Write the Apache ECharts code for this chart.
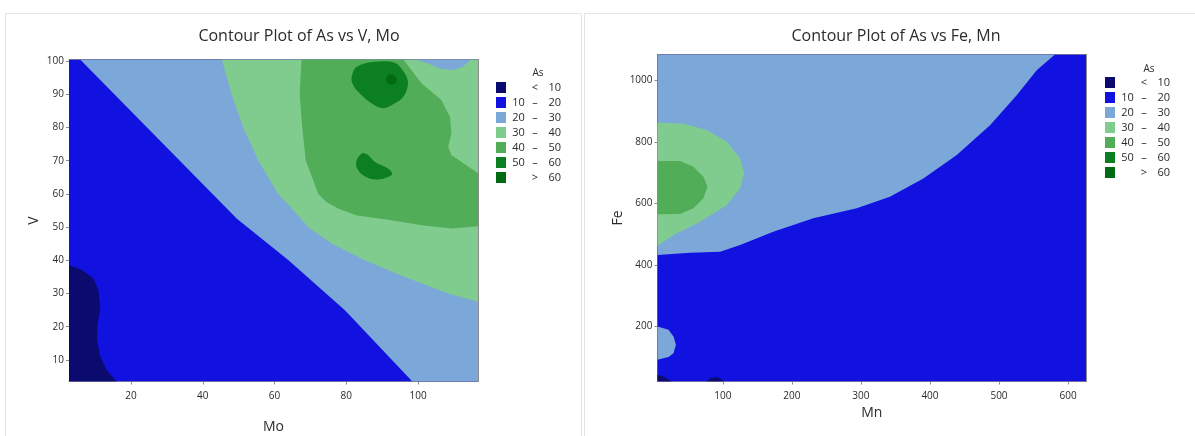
<!DOCTYPE html>
<html>
<head>
<meta charset="utf-8">
<script src="https://cdn.jsdelivr.net/npm/echarts@6/dist/echarts.min.js"></script>
<style>
  html, body { margin: 0; padding: 0; background: #fff; }
  #chart { width: 1195px; height: 436px; }
</style>
</head>
<body>
<div id="chart"></div>
<script>
// ---------- Levels ----------
const levelNames = ['< 10', '10 – 20', '20 – 30', '30 – 40', '40 – 50', '50 – 60', '> 60'];
const levelLow = ['', '10', '20', '30', '40', '50', ''];
const levelMid = ['<', '–', '–', '–', '–', '–', '>'];
const levelHigh = ['10', '20', '30', '40', '50', '60', '60'];
const levelColors = ['#0b0b6f', '#1111e0', '#7ba7d9', '#80cc8e', '#52ad58', '#0b7f22', '#006b12'];

// ---------- Left chart: As vs V (y), Mo (x) ----------
const moRange = [2.7, 116.7];
const vRange = [3.5, 100.5];
const moTicks = [20, 40, 60, 80, 100];
const vTicks = [10, 20, 30, 40, 50, 60, 70, 80, 90, 100];

const mvBase = [[2.7, 3.5], [116.7, 3.5], [116.7, 100.5], [2.7, 100.5]];
const mvNavy = [[2.7, 3.5], [2.7, 38.6], [6.3, 37.1], [9.5, 34.6], [10.9, 31.1], [11.4, 26], [10.6, 20], [10.5, 16], [11.4, 11], [13.2, 7], [16, 3.5]];
const mvBand = [[5.8, 100.5], [116.7, 100.5], [116.7, 3.5], [98.4, 3.5], [79.6, 25], [63.8, 40.1], [49.5, 52.5]];
const mvLightGreen = [[45.3, 100.5], [116.7, 100.5], [116.7, 27.5], [108.4, 30], [96.3, 35], [85.2, 40], [75.9, 45.1], [69.4, 50], [65.2, 55.2], [61, 60], [55.5, 70], [51.3, 80], [48, 90]];
const mvPatch = [[99.1, 100.5], [102.8, 99.3], [106, 97.8], [109.3, 97.3], [112, 98], [113.8, 99.5], [114.6, 100.5]];
const mvMedGreen = [[67.5, 100.5], [95.9, 100.5], [101, 93.3], [106.5, 88.3], [108.9, 83.2], [109.3, 78.2], [108.4, 74.2], [109.3, 71.7], [116.7, 66.2], [116.7, 50.3], [109.3, 49.6], [101, 50.6], [91.7, 52.2], [83, 53.5], [78, 55.5], [74.5, 57.5], [72.2, 60], [68.7, 70], [67.7, 80], [67, 90]];
const mvDarkUpper = [[81.5, 95.3], [82.9, 98.3], [88, 99.8], [93.5, 99.5], [96.3, 96.3], [97.2, 93.3], [95.9, 89.3], [93.5, 87.3], [90.3, 85.8], [87, 87.3], [83.3, 90.8], [81.7, 93.3]];
const mvDarkLower = [[82.9, 70.2], [84.3, 72.2], [85.9, 71.9], [88, 69.6], [91.7, 67.6], [92.8, 65.9], [90.3, 64.6], [87, 64.5], [84.3, 65.9], [82.8, 68.2]];
const mvDarkest = [[91.4, 95.6], [92.8, 96], [94, 95], [93.8, 93.6], [92.4, 93], [91.2, 93.8]];

// ---------- Right chart: As vs Fe (y), Mn (x) ----------
const mnRange = [5.3, 626];
const feRange = [21.6, 1083.4];
const mnTicks = [100, 200, 300, 400, 500, 600];
const feTicks = [200, 400, 600, 800, 1000];

const fmBase = [[5.3, 21.6], [626, 21.6], [626, 1083.4], [5.3, 1083.4]];
const fmLightBlue = [[5.3, 432.5], [52.7, 440], [96.1, 443.2], [125, 465], [173, 508], [231, 551.5], [294, 584], [342, 621.6], [390.4, 681], [438.8, 756.8], [487, 854], [525.6, 951.4], [554.6, 1032.5], [581, 1083.4], [5.3, 1083.4]];
const fmPatch = [[5.3, 200], [21.2, 189.3], [28.5, 167.6], [32, 140.7], [28.5, 113.7], [21.2, 100.8], [5.3, 92]];
const fmNavyA = [[5.3, 21.6], [5.3, 43.4], [14, 37.8], [26.2, 21.6]];
const fmNavyB = [[76.8, 21.6], [81.6, 32.7], [91.3, 35.9], [98.6, 27.1], [101, 21.6]];
const fmLightGreen = [[5.3, 862.9], [43, 858.4], [76.8, 837.9], [105.8, 800], [125, 746], [130.8, 697.5], [125, 648.8], [105.8, 594.7], [67.1, 540.5], [28.5, 497.4], [5.3, 461.7]];
const fmMedGreen = [[5.3, 737.4], [38.2, 737.4], [57.4, 718.9], [71.9, 686.5], [77.7, 654], [71.9, 616.4], [57.4, 584], [38.2, 565.5], [5.3, 564.5]];

// layers: [level, polygon, smooth]  (drawn in this order)
const leftLayers = [
  [1, mvBase, 0], [0, mvNavy, 0], [2, mvBand, 0], [3, mvLightGreen, 0], [2, mvPatch, 0],
  [4, mvMedGreen, 0], [5, mvDarkUpper, 0.35], [5, mvDarkLower, 0.3], [6, mvDarkest, 0.4]
];
const rightLayers = [
  [1, fmBase, 0], [2, fmLightBlue, 0], [2, fmPatch, 0], [0, fmNavyA, 0], [0, fmNavyB, 0],
  [3, fmLightGreen, 0], [4, fmMedGreen, 0]
];

const FONT = 'Open Sans';
const TXT = '#2b2b2b';
const AX = '#8c8c8c';

function buildSeries(layers, gridIdx) {
  const out = [];
  for (let lv = 0; lv < levelNames.length; lv++) {
    const items = [];
    layers.forEach((L, i) => { if (L[0] === lv) items.push([L[1][0][0], L[1][0][1], i]); });
    out.push({
      type: 'custom',
      name: levelNames[lv],
      xAxisIndex: gridIdx * 2,
      yAxisIndex: gridIdx * 2,
      coordinateSystem: 'cartesian2d',
      clip: true,
      silent: true,
      itemStyle: { color: levelColors[lv] },
      data: items,
      renderItem: function (params, api) {
        const L = layers[api.value(2)];
        const pts = L[1].map(p => api.coord(p));
        return {
          type: 'polygon',
          z2: api.value(2),
          shape: { points: pts, smooth: L[2] },
          style: { fill: levelColors[L[0]], stroke: null }
        };
      }
    });
  }
  return out;
}

function valueAxisX(range, ticks, gridIndex, name, nameGap) {
  return {
    type: 'value', gridIndex, min: range[0], max: range[1], position: 'bottom',
    name, nameLocation: 'middle', nameGap,
    nameTextStyle: { fontFamily: FONT, fontSize: 14, color: TXT },
    axisLine: { show: true, onZero: false, lineStyle: { color: AX, width: 1 } },
    axisTick: { show: true, length: 3, lineStyle: { color: AX }, customValues: ticks },
    axisLabel: { show: true, margin: 10, fontFamily: FONT, fontSize: 10, color: TXT, customValues: ticks,
      formatter: v => String(v) },
    splitLine: { show: false }
  };
}
function valueAxisY(range, ticks, gridIndex, name, nameGap) {
  return {
    type: 'value', gridIndex, min: range[0], max: range[1], position: 'left',
    name, nameLocation: 'middle', nameGap,
    nameTextStyle: { fontFamily: FONT, fontSize: 14, color: TXT },
    axisLine: { show: true, onZero: false, lineStyle: { color: AX, width: 1 } },
    axisTick: { show: true, length: 3, lineStyle: { color: AX }, customValues: ticks },
    axisLabel: { show: true, margin: 5, fontFamily: FONT, fontSize: 10, color: TXT, customValues: ticks,
      formatter: v => String(v) },
    splitLine: { show: false }
  };
}
function frameAxisX(range, gridIndex) {
  return { type: 'value', gridIndex, min: range[0], max: range[1], position: 'top',
    axisLine: { show: true, onZero: false, lineStyle: { color: AX } },
    axisTick: { show: false }, axisLabel: { show: false }, splitLine: { show: false } };
}
function frameAxisY(range, gridIndex) {
  return { type: 'value', gridIndex, min: range[0], max: range[1], position: 'right',
    axisLine: { show: true, onZero: false, lineStyle: { color: AX } },
    axisTick: { show: false }, axisLabel: { show: false }, splitLine: { show: false } };
}

function legendFor(left, top) {
  return {
    show: true, orient: 'vertical', left, top,
    data: levelNames, icon: 'rect', itemWidth: 10, itemHeight: 11, itemGap: 4,
    selectedMode: false,
    formatter: function (name) {
      const i = levelNames.indexOf(name);
      return '{a|' + (levelLow[i] || ' ') + '}{b|' + levelMid[i] + '}{c|' + levelHigh[i] + '}';
    },
    textStyle: {
      fontFamily: FONT, fontSize: 11, color: TXT, lineHeight: 11,
      rich: {
        a: { width: 15, align: 'right', fontFamily: FONT, fontSize: 11, color: TXT, lineHeight: 11 },
        b: { width: 18, align: 'center', fontFamily: FONT, fontSize: 11, color: TXT, lineHeight: 11 },
        c: { width: 17, align: 'right', fontFamily: FONT, fontSize: 11, color: TXT, lineHeight: 11 }
      }
    }
  };
}

const chart = echarts.init(document.getElementById('chart'), null, { renderer: 'canvas' });
chart.setOption({
  animation: false,
  backgroundColor: '#ffffff',
  title: [
    { text: 'Contour Plot of As vs V, Mo', left: 294, top: 23, textAlign: 'center',
      textStyle: { fontFamily: FONT, fontSize: 16, fontWeight: 'normal', color: '#2b2b2b' } },
    { text: 'Contour Plot of As vs Fe, Mn', left: 891, top: 23, textAlign: 'center',
      textStyle: { fontFamily: FONT, fontSize: 16, fontWeight: 'normal', color: '#2b2b2b' } }
  ],
  graphic: [
    { type: 'rect', shape: { x: 5.5, y: 13.5, width: 576, height: 430 }, style: { fill: null, stroke: '#e4e4e4', lineWidth: 1 }, silent: true, z: -10 },
    { type: 'rect', shape: { x: 584.5, y: 13.5, width: 620, height: 430 }, style: { fill: null, stroke: '#e4e4e4', lineWidth: 1 }, silent: true, z: -10 },
    { type: 'text', x: 538, y: 73, style: { text: 'As', fontFamily: FONT, fontSize: 10, fill: TXT, align: 'center', verticalAlign: 'middle' } },
    { type: 'text', x: 1149, y: 69, style: { text: 'As', fontFamily: FONT, fontSize: 10, fill: TXT, align: 'center', verticalAlign: 'middle' } }
  ],
  legend: [legendFor(491, 77), legendFor(1100, 72)],
  grid: [
    { left: 69, right: 1195 - 478, top: 59.5, bottom: 436 - 381.5, containLabel: false, outerBoundsMode: 'none' },
    { left: 657.5, right: 1195 - 1086, top: 54.5, bottom: 436 - 381.5, containLabel: false, outerBoundsMode: 'none' }
  ],
  xAxis: [
    valueAxisX(moRange, moTicks, 0, 'Mo', 39), frameAxisX(moRange, 0),
    valueAxisX(mnRange, mnTicks, 1, 'Mn', 25), frameAxisX(mnRange, 1)
  ],
  yAxis: [
    valueAxisY(vRange, vTicks, 0, 'V', 28), frameAxisY(vRange, 0),
    valueAxisY(feRange, feTicks, 1, 'Fe', 32), frameAxisY(feRange, 1)
  ],
  series: buildSeries(leftLayers, 0).concat(buildSeries(rightLayers, 1))
});
</script>
</body>
</html>
